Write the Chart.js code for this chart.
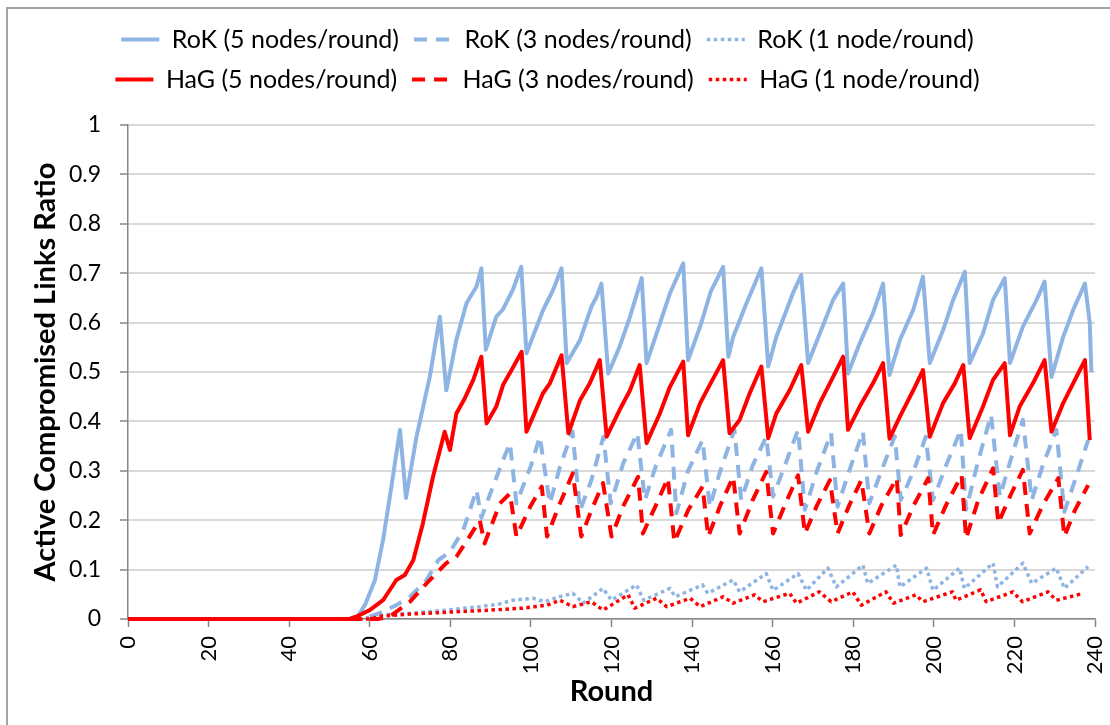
<!DOCTYPE html>
<html>
<head>
<meta charset="utf-8">
<script src="https://cdn.jsdelivr.net/npm/chart.js@4.4.1/dist/chart.umd.min.js"></script>
<style>
  html, body { margin: 0; padding: 0; background: #fff; overflow: hidden; }
  canvas { display: block; background: #fff; }
</style>
</head>
<body>
<canvas id="c" width="1110" height="725"></canvas>
<script>
// Series vertices: round number and active compromised links ratio.
const rok5Round = [0, 55, 57, 58.8, 61.3, 63.3, 65, 67.5, 69, 71.6, 74.9, 77.4, 79, 81.5, 84, 86.5, 87.7, 88.8, 91.4, 93, 95.5, 97.6, 98.9, 103, 105.5, 107.6, 108.9, 112.2, 115, 116.3, 117.5, 119.2, 122, 124.6, 127.5, 128.7, 131.2, 134.5, 137.8, 139, 142, 144.6, 147.7, 149, 150.2, 153.5, 157.2, 158.9, 160.9, 165, 167.1, 168.8, 171.7, 175, 177.5, 178.7, 181.6, 184.9, 187.4, 189, 191.6, 194.9, 197.3, 199, 202.3, 204.8, 207.7, 208.9, 212.2, 214.7, 217.6, 218.9, 222.1, 225.5, 227.5, 229.2, 232.1, 234.6, 237.5, 238.7, 239.1];
const rok5Ratio = [0, 0, 0.005, 0.028, 0.079, 0.16, 0.248, 0.383, 0.245, 0.369, 0.49, 0.612, 0.463, 0.565, 0.639, 0.673, 0.71, 0.545, 0.612, 0.626, 0.666, 0.713, 0.538, 0.625, 0.666, 0.71, 0.518, 0.565, 0.632, 0.652, 0.679, 0.497, 0.551, 0.612, 0.69, 0.518, 0.578, 0.659, 0.72, 0.524, 0.592, 0.662, 0.713, 0.531, 0.571, 0.639, 0.71, 0.511, 0.571, 0.659, 0.696, 0.518, 0.578, 0.646, 0.679, 0.497, 0.558, 0.619, 0.679, 0.494, 0.565, 0.626, 0.693, 0.518, 0.585, 0.646, 0.703, 0.518, 0.578, 0.646, 0.69, 0.518, 0.592, 0.646, 0.683, 0.49, 0.571, 0.626, 0.679, 0.6, 0.5];

const rok3Round = [0, 58, 60, 63.3, 66.6, 70, 74.1, 77, 79.9, 83.2, 86.5, 87.7, 90.2, 93.1, 94.8, 96.4, 100, 102.2, 104.7, 107.2, 110.3, 112.2, 115, 118, 119.8, 122.9, 126.4, 128.3, 131, 134.8, 136.1, 139, 142.6, 144.4, 147, 150.5, 152.2, 155, 158.4, 160.1, 163, 166.3, 168, 171, 174.5, 176.1, 179, 182.4, 184, 187, 190.3, 191.8, 195, 198, 199.8, 203, 206.7, 208, 211, 214.2, 216.4, 219, 222.1, 224.3, 227, 230.4, 232.4, 235, 238.3];
const rok3Ratio = [0, 0, 0.005, 0.015, 0.028, 0.045, 0.079, 0.119, 0.136, 0.18, 0.261, 0.205, 0.26, 0.322, 0.356, 0.234, 0.31, 0.369, 0.234, 0.308, 0.38, 0.22, 0.281, 0.369, 0.234, 0.315, 0.376, 0.241, 0.31, 0.383, 0.214, 0.3, 0.362, 0.227, 0.3, 0.383, 0.241, 0.31, 0.369, 0.248, 0.31, 0.383, 0.221, 0.3, 0.376, 0.227, 0.3, 0.379, 0.234, 0.3, 0.37, 0.241, 0.3, 0.369, 0.241, 0.31, 0.383, 0.221, 0.32, 0.413, 0.248, 0.32, 0.403, 0.241, 0.31, 0.383, 0.217, 0.28, 0.362];

const rok1Round = [0, 58, 62, 70.7, 79, 87.3, 92, 95.5, 100.5, 103.5, 107, 110.4, 113, 117.9, 120, 126.2, 128, 134.5, 135.8, 142.6, 143.9, 150.2, 151.8, 158.4, 160.1, 166.3, 168.4, 173.7, 175.8, 182.4, 183.6, 190.7, 191.6, 198.2, 199.8, 206.4, 207.6, 214.7, 215.8, 222.1, 224.3, 230.4, 232.4, 238.3];
const rok1Ratio = [0, 0, 0.008, 0.012, 0.018, 0.025, 0.03, 0.038, 0.042, 0.035, 0.045, 0.052, 0.032, 0.062, 0.038, 0.069, 0.038, 0.062, 0.045, 0.069, 0.052, 0.079, 0.055, 0.092, 0.058, 0.092, 0.058, 0.103, 0.065, 0.109, 0.072, 0.109, 0.065, 0.103, 0.058, 0.103, 0.062, 0.113, 0.065, 0.113, 0.072, 0.103, 0.062, 0.106];

const hag5Round = [0, 55, 57, 60, 63.3, 66.6, 68.7, 70.8, 73.2, 75.7, 78.6, 79.9, 81.5, 83.6, 85.7, 87.7, 89, 91.4, 93.1, 95.2, 97.7, 98.9, 99.8, 103, 104.7, 107.6, 109.3, 112.2, 114.6, 117.1, 118.8, 122, 124.6, 127, 128.7, 132, 134.5, 137.8, 139, 142, 144.6, 147.7, 149.3, 151.8, 154.3, 157.2, 158.9, 160.9, 164.2, 167.1, 168.8, 171.7, 175, 177.5, 178.7, 181.6, 184.9, 187.4, 189, 191.6, 194.9, 197.3, 199, 202.3, 205.2, 207.3, 208.9, 212.2, 214.7, 217.6, 218.9, 221.3, 224.6, 227.5, 229.2, 232.1, 235.4, 237.5, 238.7];
const hag5Ratio = [0, 0, 0.006, 0.018, 0.038, 0.079, 0.089, 0.119, 0.194, 0.288, 0.379, 0.342, 0.416, 0.447, 0.484, 0.531, 0.396, 0.43, 0.474, 0.504, 0.541, 0.379, 0.396, 0.457, 0.477, 0.534, 0.376, 0.443, 0.477, 0.524, 0.369, 0.423, 0.463, 0.514, 0.356, 0.416, 0.47, 0.521, 0.372, 0.437, 0.477, 0.524, 0.376, 0.403, 0.457, 0.511, 0.366, 0.416, 0.463, 0.514, 0.379, 0.437, 0.49, 0.531, 0.383, 0.43, 0.477, 0.518, 0.365, 0.41, 0.463, 0.504, 0.369, 0.437, 0.477, 0.514, 0.366, 0.43, 0.484, 0.518, 0.372, 0.43, 0.477, 0.524, 0.379, 0.437, 0.49, 0.524, 0.362];

const hag3Round = [0, 62, 65, 70, 74.1, 79, 81.5, 84, 87.3, 88.5, 92.3, 94.8, 96.4, 99.8, 102.7, 104, 107, 110.4, 112.5, 115, 117.9, 120, 123, 126.6, 127.8, 131, 134, 135.6, 139, 142.6, 144, 147, 150.2, 151.8, 155, 158.4, 160.1, 163, 166.3, 168, 171, 174.2, 176.1, 179, 182, 184, 187, 190.8, 191.8, 195, 198.6, 199.8, 203, 206.9, 208, 211, 214.7, 216, 219, 222.1, 223.8, 227, 230.9, 232.4, 235, 238.3];
const hag3Ratio = [0, 0, 0.005, 0.035, 0.072, 0.113, 0.126, 0.157, 0.2, 0.153, 0.234, 0.254, 0.167, 0.227, 0.268, 0.167, 0.23, 0.295, 0.167, 0.22, 0.275, 0.167, 0.23, 0.288, 0.173, 0.23, 0.285, 0.156, 0.22, 0.268, 0.167, 0.23, 0.288, 0.173, 0.24, 0.298, 0.173, 0.23, 0.291, 0.173, 0.23, 0.281, 0.173, 0.23, 0.281, 0.173, 0.23, 0.285, 0.17, 0.23, 0.285, 0.17, 0.23, 0.291, 0.163, 0.24, 0.305, 0.194, 0.25, 0.302, 0.173, 0.23, 0.285, 0.167, 0.22, 0.271];

const hag1Round = [0, 60, 63, 70, 80, 90, 98, 104, 107.2, 110.4, 115, 117.9, 124.1, 125.8, 131.2, 133.7, 139.5, 142, 147.7, 150.2, 155.5, 157.6, 164.2, 165.9, 171.6, 174.5, 179.9, 182, 188.1, 190, 195.5, 197.3, 204.6, 205.5, 211.6, 213, 219.6, 222, 228.3, 230.4, 237.1];
const hag1Ratio = [0, 0, 0.006, 0.01, 0.014, 0.018, 0.022, 0.028, 0.038, 0.025, 0.035, 0.018, 0.049, 0.022, 0.042, 0.025, 0.042, 0.025, 0.045, 0.032, 0.049, 0.035, 0.052, 0.032, 0.055, 0.035, 0.055, 0.028, 0.055, 0.032, 0.049, 0.035, 0.055, 0.038, 0.059, 0.035, 0.055, 0.035, 0.055, 0.038, 0.052];

const seriesNames = ['RoK (5 nodes/round)', 'RoK (3 nodes/round)', 'RoK (1 node/round)',
                     'HaG (5 nodes/round)', 'HaG (3 nodes/round)', 'HaG (1 node/round)'];
const xTickStep = 20;
const yTickStep = 0.1;

const BLUE = '#8EB4E3';
const RED = '#FF0000';
const FONT = 'Lato, "Open Sans", sans-serif';
const DASH = [13, 9];
const DOT = [3.5, 3.5];

const pts = (xs, ys) => xs.map((x, i) => ({ x: x, y: ys[i] }));

function series(label, xs, ys, color, dash, width, order) {
  return {
    label: label,
    data: pts(xs, ys),
    borderColor: color,
    backgroundColor: color,
    borderWidth: width,
    borderDash: dash,
    borderCapStyle: 'butt',
    borderJoinStyle: 'round',
    pointRadius: 0,
    pointHoverRadius: 0,
    pointStyle: 'line',
    tension: 0,
    fill: false,
    clip: 6,
    order: order
  };
}

// Grey frame round the whole figure.
const frame = {
  id: 'frame',
  beforeDraw(chart) {
    const c = chart.ctx;
    c.save();
    c.strokeStyle = '#a3a3a3';
    c.lineWidth = 2;
    c.strokeRect(7, 8, 1400, 1000);
    c.restore();
  }
};

// Extra space between the legend and the plot.
const legendGap = {
  id: 'legendGap',
  beforeInit(chart) {
    const lg = chart.legend;
    const fit = lg.fit;
    lg.fit = function () { fit.call(this); this.height += 23; };
  }
};

// Legend samples take the line width and dash of their dataset.
function legendItems(chart) {
  const items = Chart.defaults.plugins.legend.labels.generateLabels(chart);
  return items.map(item => {
    const ds = chart.data.datasets[item.datasetIndex];
    item.lineDash = ds.borderDash;
    item.lineWidth = ds.borderWidth;
    item.strokeStyle = ds.borderColor;
    item.fillStyle = ds.borderColor;
    item.lineCap = 'butt';
    item.pointStyle = 'line';
    return item;
  });
}

new Chart(document.getElementById('c'), {
  type: 'line',
  data: {
    datasets: [
      series(seriesNames[0], rok5Round, rok5Ratio, BLUE, [], 4, 6),
      series(seriesNames[1], rok3Round, rok3Ratio, BLUE, DASH, 4, 5),
      series(seriesNames[2], rok1Round, rok1Ratio, BLUE, DOT, 3.5, 4),
      series(seriesNames[3], hag5Round, hag5Ratio, RED, [], 4, 3),
      series(seriesNames[4], hag3Round, hag3Ratio, RED, DASH, 4, 2),
      series(seriesNames[5], hag1Round, hag1Ratio, RED, DOT, 3.5, 1)
    ]
  },
  plugins: [frame, legendGap],
  options: {
    responsive: false,
    animation: false,
    events: [],
    layout: { padding: { left: 0, right: 15, top: 12, bottom: 0 } },
    plugins: {
      tooltip: { enabled: false },
      legend: {
        position: 'top',
        labels: {
          usePointStyle: true,
          pointStyleWidth: 38,
          padding: 15,
          color: '#000',
          font: { family: FONT, size: 25 },
          generateLabels: legendItems,
          sort: (a, b) => a.datasetIndex - b.datasetIndex
        }
      }
    },
    scales: {
      x: {
        type: 'linear',
        min: 0,
        max: 240,
        afterFit(scale) {
          scale.height = 106;
          scale.paddingLeft = 0;
          scale.paddingRight = 0;
        },
        ticks: {
          stepSize: xTickStep,
          minRotation: 90,
          maxRotation: 90,
          padding: 9,
          color: '#000',
          font: { family: FONT, size: 22 }
        },
        grid: {
          drawOnChartArea: false,
          drawTicks: true,
          tickLength: 8,
          tickColor: '#868686',
          tickWidth: 1.5
        },
        border: { color: '#868686', width: 1.5 },
        title: {
          display: true,
          text: 'Round',
          color: '#000',
          font: { family: FONT, size: 29, weight: 'bold' },
          padding: { top: 0, bottom: 16 }
        }
      },
      y: {
        min: 0,
        max: 1,
        afterFit(scale) { scale.width = 128; },
        ticks: {
          stepSize: yTickStep,
          padding: 19,
          color: '#000',
          font: { family: FONT, size: 23 },
          callback: v => String(+v.toFixed(1))
        },
        grid: {
          color: '#d9d9d9',
          lineWidth: 2,
          tickLength: 8,
          tickColor: '#868686',
          tickWidth: 1.5
        },
        border: { color: '#868686', width: 1.5 },
        title: {
          display: true,
          text: 'Active Compromised Links Ratio',
          color: '#000',
          font: { family: FONT, size: 29, weight: 'bold' },
          padding: { top: 28, bottom: 0 }
        }
      }
    }
  }
});
</script>
</body>
</html>
